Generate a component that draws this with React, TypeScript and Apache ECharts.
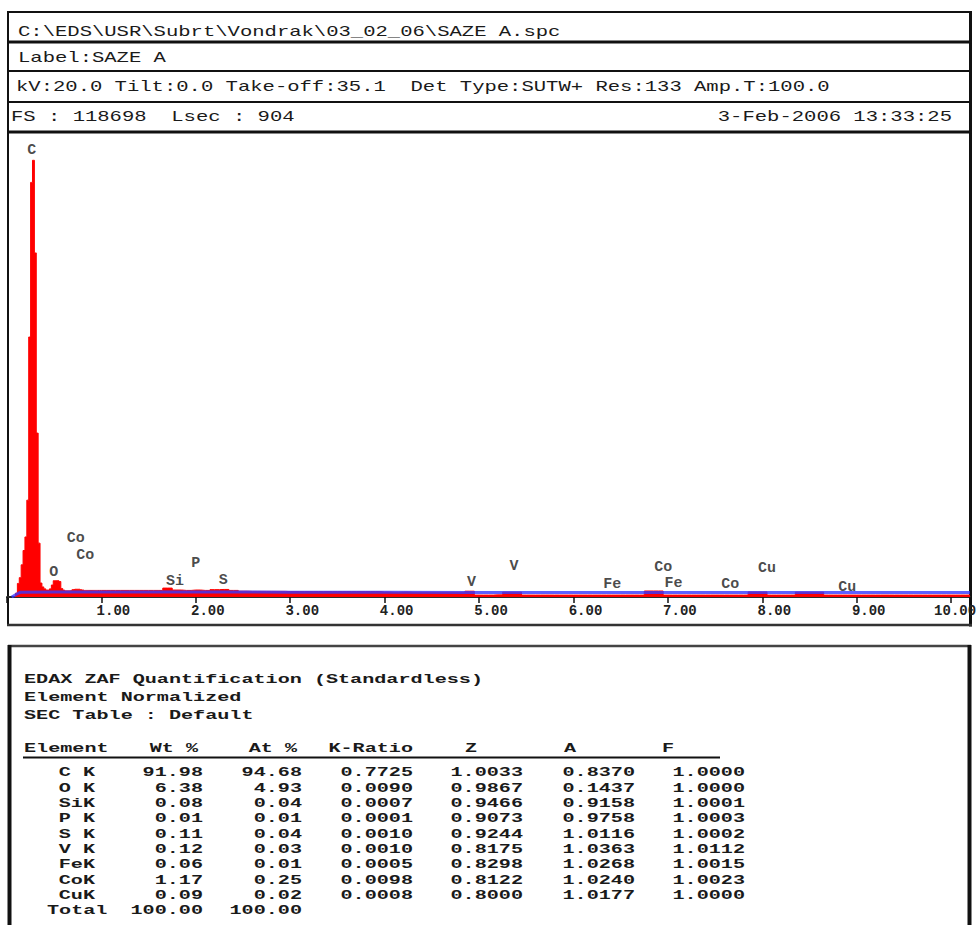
import React, { useEffect, useRef } from "react";
import * as echarts from "echarts";

const MONO = "'Liberation Mono', 'DejaVu Sans Mono', monospace";

// Header texts
const headerPath = "C:\\EDS\\USR\\Subrt\\Vondrak\\03_02_06\\SAZE A.spc";
const headerLabel = "Label:SAZE A";
const headerParams = "kV:20.0 Tilt:0.0 Take-off:35.1  Det Type:SUTW+ Res:133 Amp.T:100.0";
const headerFs = "FS : 118698  Lsec : 904";
const headerDate = "3-Feb-2006 13:33:25";

// Spectrum, fine channels (keV / counts)
const fineEnergy = [
  0.08, 0.1, 0.12, 0.14, 0.16, 0.18, 0.2, 0.22, 0.24, 0.26, 0.28, 0.3, 0.32, 0.34, 0.36,
  0.38, 0.4, 0.42, 0.44, 0.46, 0.48, 0.5, 0.52, 0.54, 0.56, 0.58, 0.6, 0.62, 0.64, 0.66,
  0.68, 0.7, 0.72, 0.74, 0.76, 0.78, 0.8, 0.82, 0.84, 0.86, 0.88, 0.9, 0.92, 0.94, 0.96,
];
const fineCounts = [
  0, 1000, 3500, 5000, 8300, 12000, 15500, 25000, 67100, 107000, 112700, 88800, 42300, 13900, 3600,
  2600, 2100, 1800, 1800, 2100, 3100, 4200, 4200, 4200, 4000, 2200, 1800, 1600, 1600, 1600,
  1700, 1900, 2000, 2000, 2000, 1900, 1800, 1700, 1700, 1700, 1700, 1700, 1700, 1700, 1700,
];

// Spectrum, coarse region (keV / counts)
const coarseEnergy = [
  1.0, 1.1, 1.2, 1.3, 1.4, 1.5, 1.6, 1.7, 1.8, 1.9,
  2.0, 2.1, 2.2, 2.3, 2.4, 2.5, 2.6, 2.7, 2.8, 2.9,
  3.0, 3.1, 3.2, 3.3, 3.4, 3.5, 3.6, 3.7, 3.8, 3.9,
  4.0, 4.1, 4.2, 4.3, 4.4, 4.5, 4.6, 4.7, 4.8, 4.9,
  5.0, 5.1, 5.2, 5.3, 5.4, 5.5, 5.6, 5.7, 5.8, 5.9,
  6.0, 6.1, 6.2, 6.3, 6.4, 6.5, 6.6, 6.7, 6.8, 6.9,
  7.0, 7.1, 7.2, 7.3, 7.4, 7.5, 7.6, 7.7, 7.8, 7.9,
  8.0, 8.1, 8.2, 8.3, 8.4, 8.5, 8.6, 8.7, 8.8, 8.9,
  9.0, 9.1, 9.2, 9.3, 9.4, 9.5, 9.6, 9.7, 9.8, 9.9,
  10.0, 10.1, 10.2,
];
const coarseCounts = [
  1700, 1700, 1700, 1700, 1700, 1700, 1700, 2300, 1800, 1700,
  1800, 1700, 1900, 1950, 1700, 1500, 1450, 1450, 1450, 1450,
  1400, 1400, 1400, 1400, 1400, 1400, 1400, 1400, 1400, 1400,
  1300, 1250, 1300, 1250, 1250, 1250, 1250, 1250, 1250, 1500,
  500, 500, 550, 1250, 1250, 500, 500, 500, 500, 500,
  500, 500, 500, 500, 500, 500, 500, 500, 1550, 1550,
  500, 500, 500, 500, 500, 500, 500, 500, 500, 1300,
  1300, 500, 500, 500, 1250, 1250, 1250, 500, 500, 500,
  500, 500, 500, 500, 500, 500, 500, 500, 500, 500,
  500, 500, 500,
];

// Background fit (blue)
const bgEnergy = [0.05, 0.1, 0.14, 0.5, 1.0, 2.0, 3.0, 4.0, 4.9, 5.0, 7.0, 10.2];
const bgCounts = [0, 700, 1200, 1300, 1300, 1300, 1250, 1200, 1150, 1150, 1150, 1150];

// Element peak labels
const peakNames = ["C", "Co", "Co", "O", "Si", "P", "S", "V", "V", "Fe", "Co", "Fe", "Co", "Cu", "Cu"];
const peakEnergy = [0.262, 0.728, 0.828, 0.495, 1.78, 2.0, 2.29, 4.92, 5.37, 6.41, 6.95, 7.06, 7.66, 8.05, 8.9];
const peakCounts = [115300, 15200, 10800, 6450, 3950, 8770, 4130, 3700, 7800, 3100, 7560, 3530, 3100, 7400, 2400];

// Axis ticks
const xTickValues = [1, 2, 3, 4, 5, 6, 7, 8, 9, 10];
const xTickLabels = ["1.00", "2.00", "3.00", "4.00", "5.00", "6.00", "7.00", "8.00", "9.00", "10.00"];

// Quantification table
const quantTitle = ["EDAX ZAF Quantification (Standardless)", "Element Normalized", "SEC Table : Default"];
const quantElements = ["C K", "O K", "SiK", "P K", "S K", "V K", "FeK", "CoK", "CuK"];
const quantWt = ["91.98", "6.38", "0.08", "0.01", "0.11", "0.12", "0.06", "1.17", "0.09"];
const quantAt = ["94.68", "4.93", "0.04", "0.01", "0.04", "0.03", "0.01", "0.25", "0.02"];
const quantKRatio = ["0.7725", "0.0090", "0.0007", "0.0001", "0.0010", "0.0010", "0.0005", "0.0098", "0.0008"];
const quantZ = ["1.0033", "0.9867", "0.9466", "0.9073", "0.9244", "0.8175", "0.8298", "0.8122", "0.8000"];
const quantA = ["0.8370", "0.1437", "0.9158", "0.9758", "1.0116", "1.0363", "1.0268", "1.0240", "1.0177"];
const quantF = ["1.0000", "1.0000", "1.0001", "1.0003", "1.0002", "1.0112", "1.0015", "1.0023", "1.0000"];
const quantTotal = ["Total", "100.00", "100.00"];

const TXT = "#1a1a1a";

function txt(
  text: string,
  x: number,
  y: number,
  size: number,
  sx: number,
  align: string = "left",
  weight: string = "bold"
) {
  return {
    type: "text",
    x,
    y,
    scaleX: sx,
    silent: true,
    style: {
      text,
      fill: TXT,
      font: `${weight} ${size}px ${MONO}`,
      align,
      textAlign: align,
      verticalAlign: "middle",
      textVerticalAlign: "middle",
    },
  };
}

function ln(x1: number, y1: number, x2: number, y2: number, w: number, c: string = "#111") {
  return {
    type: "line",
    silent: true,
    shape: { x1, y1, x2, y2 },
    style: { stroke: c, lineWidth: w },
  };
}

export default function App() {
  const ref = useRef<HTMLDivElement>(null);

  useEffect(() => {
    document.body.style.margin = "0";
    if (!ref.current) return;
    const chart = echarts.init(ref.current, undefined, { renderer: "svg" });

    const spectrum: [number, number][] = [];
    fineEnergy.forEach((e, i) => spectrum.push([e, fineCounts[i]]));
    coarseEnergy.forEach((e, i) => spectrum.push([e, coarseCounts[i]]));
    const bg = bgEnergy.map((e, i) => [e, bgCounts[i]]);
    const peaks = peakNames.map((n, i) => ({ name: n, value: [peakEnergy[i], peakCounts[i]] }));

    const HS = 15;
    const HX = 1.37;
    const TS = 13;
    const TX = 1.55;

    const graphics: any[] = [];
    // header box and frame
    graphics.push(ln(7, 12, 972, 12, 2));
    graphics.push(ln(8, 11, 8, 626, 2));
    graphics.push(ln(970.5, 11, 970.5, 626.5, 3));
    graphics.push(ln(7, 42, 972, 42, 3));
    graphics.push(ln(7, 71, 972, 71, 2));
    graphics.push(ln(7, 102, 972, 102, 2));
    graphics.push(ln(7, 132, 972, 132, 3));
    graphics.push(ln(7, 625, 972, 625, 2.5, "#333"));
    // table box
    graphics.push(ln(8, 646, 971, 646, 2.5, "#444"));
    graphics.push(ln(9.5, 645, 9.5, 925, 4));
    graphics.push(ln(969.5, 645, 969.5, 925, 4));
    // header texts
    graphics.push(txt(headerPath, 18, 32, HS, HX, "left", "normal"));
    graphics.push(txt(headerLabel, 18, 58, HS, HX, "left", "normal"));
    graphics.push(txt(headerParams, 16, 87, HS, HX, "left", "normal"));
    graphics.push(txt(headerFs, 11, 117, HS, HX, "left", "normal"));
    graphics.push(txt(headerDate, 952, 117, HS, HX, "right", "normal"));
    // table texts
    quantTitle.forEach((t, i) => graphics.push(txt(t, 24, 680 + i * 18, TS, TX)));
    graphics.push(txt("Element", 24, 749, TS, TX));
    graphics.push(txt("Wt %", 198, 749, TS, TX, "right"));
    graphics.push(txt("At %", 297, 749, TS, TX, "right"));
    graphics.push(txt("K-Ratio", 413, 749, TS, TX, "right"));
    graphics.push(txt("Z", 471, 749, TS, TX, "center"));
    graphics.push(txt("A", 570, 749, TS, TX, "center"));
    graphics.push(txt("F", 668, 749, TS, TX, "center"));
    graphics.push(ln(23, 757.5, 720, 757.5, 2));
    quantElements.forEach((el, i) => {
      const y = 773 + i * 15.3;
      graphics.push(txt(el, 95, y, TS, TX, "right"));
      graphics.push(txt(quantWt[i], 203, y, TS, TX, "right"));
      graphics.push(txt(quantAt[i], 302, y, TS, TX, "right"));
      graphics.push(txt(quantKRatio[i], 413, y, TS, TX, "right"));
      graphics.push(txt(quantZ[i], 523, y, TS, TX, "right"));
      graphics.push(txt(quantA[i], 635, y, TS, TX, "right"));
      graphics.push(txt(quantF[i], 745, y, TS, TX, "right"));
    });
    const ty = 773 + 9 * 15.3;
    graphics.push(txt(quantTotal[0], 47, ty, TS, TX));
    graphics.push(txt(quantTotal[1], 203, ty, TS, TX, "right"));
    graphics.push(txt(quantTotal[2], 302, ty, TS, TX, "right"));

    const labelFont = { fontFamily: MONO, fontWeight: "bold", fontSize: 14, color: "#222" };

    chart.setOption({
      animation: false,
      backgroundColor: "#ffffff",
      tooltip: { show: false },
      grid: { left: 7, right: 9, top: 132, bottom: 328, containLabel: false, outerBoundsMode: "none" },
      xAxis: {
        type: "value",
        min: 0,
        max: 10.2,
        interval: 1,
        axisLine: { show: true, lineStyle: { color: "#2a2a2a", width: 2 } },
        axisTick: { show: true, length: 6, lineStyle: { color: "#111", width: 1.5 } },
        splitLine: { show: false },
        axisLabel: {
          margin: 7,
          hideOverlap: false,
          ...labelFont,
          formatter: (v: number) => {
            const i = xTickValues.indexOf(Math.round(v * 100) / 100);
            if (i < 0) return "";
            const s = xTickLabels[i];
            return (s.length > 4 ? "{w|" : "{n|") + s + "}";
          },
          rich: {
            n: { ...labelFont, padding: [0, 0, 0, 24] },
            w: { ...labelFont, padding: [0, 0, 0, 8] },
          },
        },
      },
      yAxis: { type: "value", min: 0, max: 120000, show: false, splitLine: { show: false } },
      series: [
        {
          type: "line",
          step: "middle",
          data: spectrum,
          symbol: "none",
          silent: true,
          lineStyle: { color: "#ff0000", width: 1 },
          areaStyle: { color: "#ff0000", opacity: 1 },
          z: 2,
        },
        {
          type: "line",
          data: bg,
          symbol: "none",
          silent: true,
          lineStyle: { color: "rgba(55,55,255,0.8)", width: 3 },
          z: 3,
        },
        {
          type: "scatter",
          data: peaks,
          symbol: "circle",
          symbolSize: 0.1,
          silent: true,
          itemStyle: { color: "transparent" },
          label: {
            show: true,
            position: "inside",
            formatter: "{b}",
            ...labelFont,
            color: "#1a1a1a",
            fontSize: 15,
          },
          z: 4,
        },
      ],
      graphic: graphics,
    });

    return () => chart.dispose();
  }, []);

  return <div ref={ref} style={{ width: 979, height: 925, background: "#fff" }} />;
}
